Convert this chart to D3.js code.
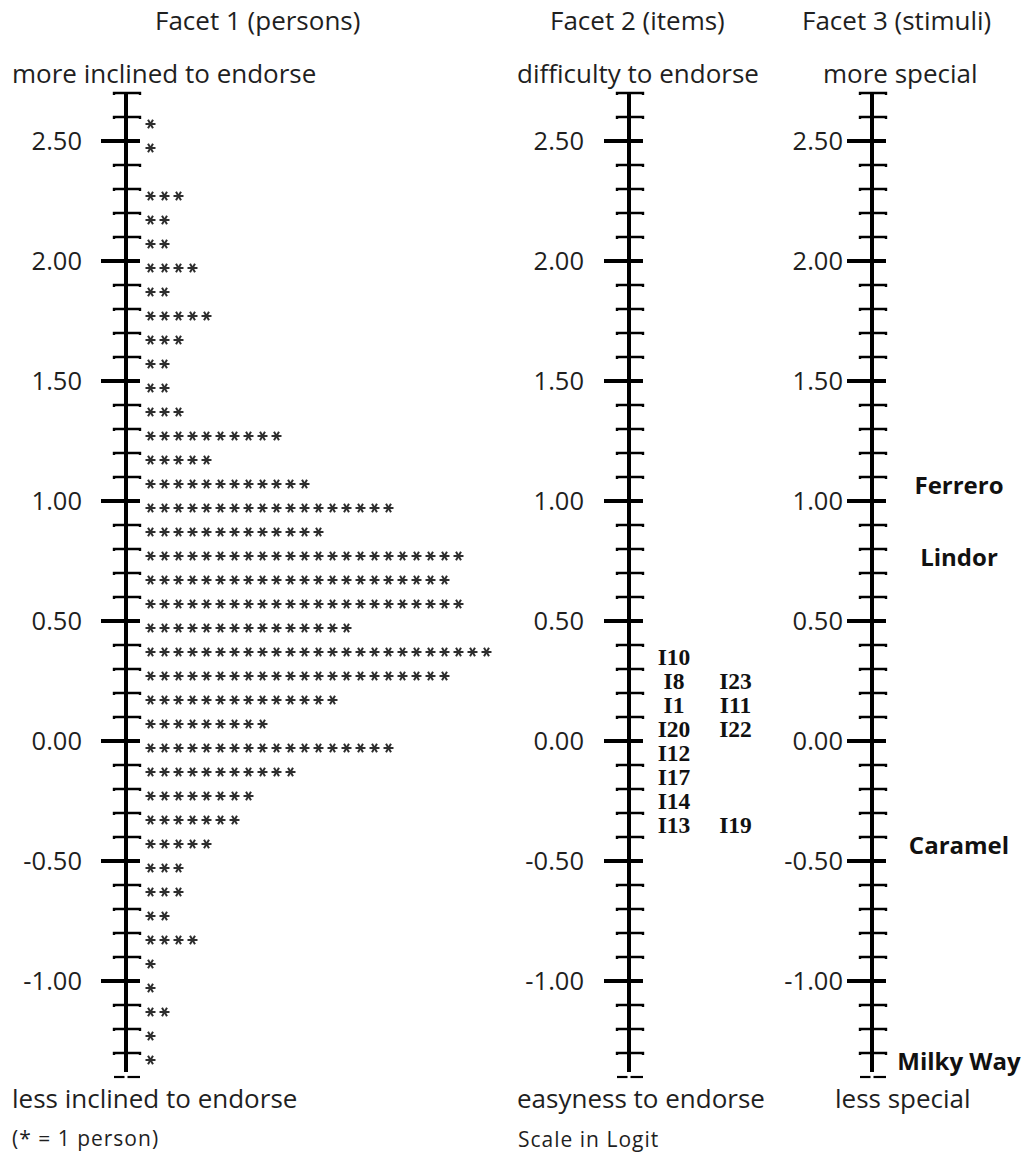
<!DOCTYPE html>
<html>
<head>
<meta charset="utf-8">
<script src="https://cdn.jsdelivr.net/npm/d3@7"></script>
<style>
  body { margin: 0; background: #fff; }
  svg { display: block; }
  text { font-family: "Open Sans", "Noto Sans", sans-serif; fill: #1f1f1f; }
</style>
</head>
<body>
<script>
// Logit rows of the person ruler (top to bottom) and persons located in each row
const personRows = [2.6, 2.5, 2.4, 2.3, 2.2, 2.1, 2.0, 1.9, 1.8, 1.7, 1.6, 1.5, 1.4, 1.3, 1.2, 1.1, 1.0,
  0.9, 0.8, 0.7, 0.6, 0.5, 0.4, 0.3, 0.2, 0.1, 0.0, -0.1, -0.2, -0.3, -0.4, -0.5, -0.6, -0.7,
  -0.8, -0.9, -1.0, -1.1, -1.2, -1.3];
const personCounts = [1, 1, 0, 3, 2, 2, 4, 2, 5, 3, 2, 2, 3, 10, 5, 12, 18,
  13, 23, 22, 23, 15, 25, 22, 14, 9, 18, 11, 8, 7, 5, 3, 3, 2,
  4, 1, 1, 2, 1, 1];

// Item difficulties (Facet 2)
const itemNames = ["I10", "I8", "I23", "I1", "I11", "I20", "I22", "I12", "I17", "I14", "I13", "I19"];
const itemMeasures = [0.4, 0.3, 0.3, 0.2, 0.2, 0.1, 0.1, 0.0, -0.1, -0.2, -0.3, -0.3];

// Stimulus measures (Facet 3)
const stimulusNames = ["Ferrero", "Lindor", "Caramel", "Milky Way"];
const stimulusMeasures = [1.1, 0.8, -0.4, -1.3];

// Ruler ticks
const majorTicks = [2.5, 2.0, 1.5, 1.0, 0.5, 0.0, -0.5, -1.0];
const tickLabels = ["2.50", "2.00", "1.50", "1.00", "0.50", "0.00", "-0.50", "-1.00"];
const minorTicks = [2.7, 2.6, 2.4, 2.3, 2.2, 2.1, 1.9, 1.8, 1.7, 1.6, 1.4, 1.3, 1.2, 1.1,
  0.9, 0.8, 0.7, 0.6, 0.4, 0.3, 0.2, 0.1, -0.1, -0.2, -0.3, -0.4, -0.6, -0.7, -0.8, -0.9,
  -1.1, -1.2, -1.3];
const rulerTop = 2.7, rulerBottom = -1.4;

const width = 1030, height = 1155;
const svg = d3.select("body").append("svg")
  .attr("width", width).attr("height", height);

const y = d3.scaleLinear().domain([rulerTop, rulerBottom]).range([93, 1077]);

// Draws one vertical logit ruler centred on x0
function ruler(x0, labelRight) {
  const g = svg.append("g");
  g.append("line")
    .attr("x1", x0).attr("x2", x0)
    .attr("y1", y(rulerTop)).attr("y2", y(rulerBottom) - 5)
    .attr("stroke", "#000").attr("stroke-width", 4);

  // minor ticks: small T bars with tiny serifs
  g.selectAll("path.minor").data(minorTicks).join("path")
    .attr("class", "minor")
    .attr("d", d => {
      const yy = y(d);
      return `M${x0 - 12},${yy + 2}V${yy}H${x0 + 14}V${yy + 2}`;
    })
    .attr("fill", "none").attr("stroke", "#000").attr("stroke-width", 2.4);

  // major ticks
  g.selectAll("line.major").data(majorTicks).join("line")
    .attr("class", "major")
    .attr("x1", x0 - 25).attr("x2", x0 + 14)
    .attr("y1", d => y(d)).attr("y2", d => y(d))
    .attr("stroke", "#000").attr("stroke-width", 4);

  // dashed end cap
  [[x0 - 12, x0 - 1.5], [x0 + 1.5, x0 + 14]].forEach(([a, b]) => {
    g.append("line")
      .attr("x1", a).attr("x2", b)
      .attr("y1", y(rulerBottom)).attr("y2", y(rulerBottom))
      .attr("stroke", "#000").attr("stroke-width", 2.2);
  });

  g.selectAll("text.tick").data(majorTicks).join("text")
    .attr("class", "tick")
    .attr("x", labelRight).attr("y", d => y(d))
    .attr("dy", "0.36em")
    .attr("text-anchor", "end")
    .style("font-size", "25.5px")
    .text((d, i) => tickLabels[i]);
}

ruler(126, 82);
ruler(629, 584);
ruler(872, 843);

// Facet 1: one asterisk per person
const xStar = d3.scaleLinear().domain([0, 1]).range([150.5, 164.5]);
const star = d3.symbol(d3.symbolAsterisk, 70);
const starData = personRows.flatMap((v, r) =>
  d3.range(personCounts[r]).map(i => ({ v, i })));
svg.append("g").selectAll("path").data(starData).join("path")
  .attr("d", star)
  .attr("transform", d => `translate(${xStar(d.i)},${y(d.v) + 7}) rotate(90)`)
  .attr("fill", "none").attr("stroke", "#2e2e2e").attr("stroke-width", 2);

// Facet 2: item labels, a second item in the same row goes to the next column
const itemCols = [674, 735.5];
const seen = new Map();
const itemData = itemNames.map((name, k) => {
  const key = itemMeasures[k].toFixed(1);
  const col = seen.get(key) || 0;
  seen.set(key, col + 1);
  return { name, v: itemMeasures[k], col };
});
svg.append("g").selectAll("text").data(itemData).join("text")
  .attr("x", d => itemCols[d.col])
  .attr("y", d => y(d.v) + 20)
  .attr("text-anchor", "middle")
  .style("font-family", "'Liberation Serif', 'Times New Roman', serif")
  .style("font-weight", "bold")
  .style("font-size", "23.5px")
  .style("fill", "#111")
  .text(d => d.name);

// Facet 3: stimulus labels
svg.append("g").selectAll("text").data(stimulusNames).join("text")
  .attr("x", 959)
  .attr("y", (d, i) => y(stimulusMeasures[i]) + 16.5)
  .attr("text-anchor", "middle")
  .style("font-weight", "bold")
  .style("font-size", "24px")
  .style("fill", "#111")
  .text(d => d);

// Headings and ruler end captions
const bigText = [
  ["Facet 1 (persons)", 155, 30],
  ["Facet 2 (items)", 550, 30],
  ["Facet 3 (stimuli)", 802, 30],
  ["more inclined to endorse", 12, 83],
  ["difficulty to endorse", 517, 83],
  ["more special", 823, 83],
  ["less inclined to endorse", 12, 1108],
  ["easyness to endorse", 517, 1108],
  ["less special", 835, 1108]
];
svg.append("g").selectAll("text").data(bigText).join("text")
  .attr("x", d => d[1]).attr("y", d => d[2])
  .style("font-size", "26px")
  .text(d => d[0]);

const smallText = [
  ["(* = 1 person)", 12, 1146],
  ["Scale in Logit", 518, 1147]
];
svg.append("g").selectAll("text").data(smallText).join("text")
  .attr("x", d => d[1]).attr("y", d => d[2])
  .style("font-size", "21px")
  .style("letter-spacing", "1px")
  .text(d => d[0]);
</script>
</body>
</html>
